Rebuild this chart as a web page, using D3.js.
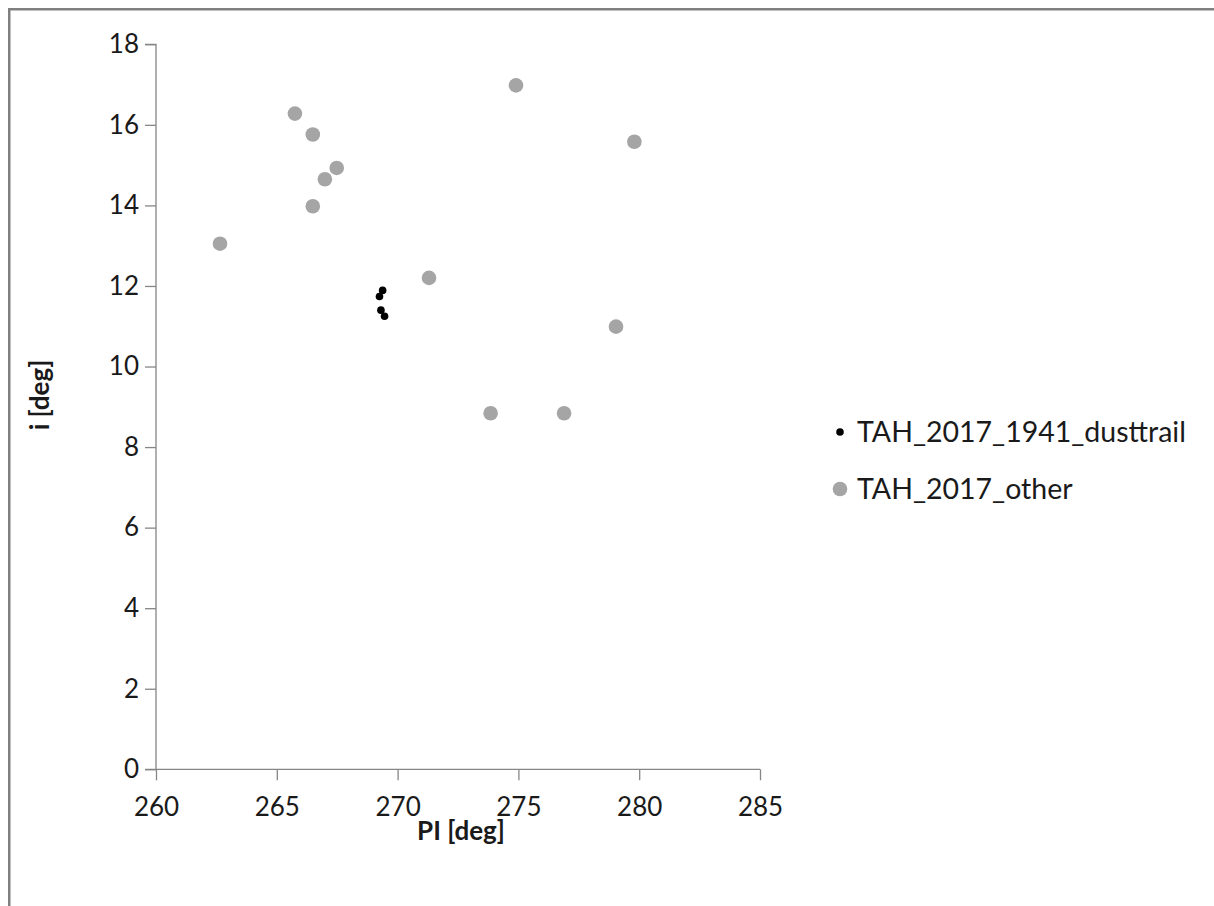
<!DOCTYPE html>
<html><head><meta charset="utf-8">
<script src="https://cdn.jsdelivr.net/npm/d3@7"></script>
<style>html,body{margin:0;padding:0;background:#fff;}svg{display:block;}</style>
</head><body>
<svg id="chart" width="1214" height="906"></svg>
<script>
// Data
const dusttrailPI = [269.38, 269.25, 269.31, 269.46];
const dusttrailI  = [11.89, 11.74, 11.40, 11.25];
const otherPI = [262.65, 265.75, 266.49, 267.48, 266.99, 266.49, 271.30, 274.90, 279.80, 279.04, 273.85, 276.89];
const otherI  = [13.05, 16.28, 15.76, 14.93, 14.65, 13.98, 12.20, 16.98, 15.58, 10.99, 8.84, 8.84];
const xTicks = [260, 265, 270, 275, 280, 285];
const yTicks = [0, 2, 4, 6, 8, 10, 12, 14, 16, 18];
const seriesNames = ["TAH_2017_1941_dusttrail", "TAH_2017_other"];

const svg = d3.select("#chart");
const font = "Lato, 'Open Sans', sans-serif";
const axisColor = "#868686";

// outer border
svg.append("rect").attr("x", 9.25).attr("y", 9.25).attr("width", 1220).attr("height", 920)
  .attr("fill", "none").attr("stroke", "#808080").attr("stroke-width", 2.5);

const x = d3.scaleLinear().domain([260, 285]).range([156, 760]);
const y = d3.scaleLinear().domain([0, 18]).range([769.3, 44.3]);

const xAxis = svg.append("g").attr("transform", `translate(0,${y(0)})`)
  .call(d3.axisBottom(x).tickValues(xTicks).tickSize(11).tickSizeOuter(0).tickPadding(17));
const yAxis = svg.append("g").attr("transform", `translate(${x(260)},0)`)
  .call(d3.axisLeft(y).tickValues(yTicks).tickSize(11).tickSizeOuter(0).tickPadding(6));

[xAxis, yAxis].forEach(g => {
  g.select(".domain").attr("stroke", axisColor).attr("stroke-width", 1.3);
  g.selectAll(".tick line").attr("stroke", axisColor).attr("stroke-width", 1.3);
  g.selectAll(".tick text").attr("fill", "#1a1a1a").style("font-family", font).style("font-size", "26px");
});
xAxis.select(".domain").attr("d", `M${x(260)-11},0H${x(285)}`);
yAxis.select(".domain").attr("d", `M0,${y(0)}V${y(18)}H-11`);

// axis titles
svg.append("text").attr("x", 461).attr("y", 840).attr("text-anchor", "middle")
  .style("font-family", font).style("font-size", "26px").style("font-weight", "bold").attr("fill", "#1a1a1a")
  .text("PI [deg]");
svg.append("text").attr("transform", `translate(49,${395}) rotate(-90)`).attr("text-anchor", "middle")
  .style("font-family", font).style("font-size", "26px").style("font-weight", "bold").attr("fill", "#1a1a1a")
  .text("i [deg]");

// points
svg.append("g").selectAll("circle").data(otherPI.map((v, i) => [v, otherI[i]])).join("circle")
  .attr("cx", d => x(d[0])).attr("cy", d => y(d[1])).attr("r", 7.3).attr("fill", "#a5a5a5");
svg.append("g").selectAll("circle").data(dusttrailPI.map((v, i) => [v, dusttrailI[i]])).join("circle")
  .attr("cx", d => x(d[0])).attr("cy", d => y(d[1])).attr("r", 3.8).attr("fill", "#000");

// legend
const legY = [432, 489];
const legColors = ["#000", "#a5a5a5"];
const legR = [3.8, 7.3];
seriesNames.forEach((name, i) => {
  svg.append("circle").attr("cx", 840).attr("cy", legY[i]).attr("r", legR[i]).attr("fill", legColors[i]);
  svg.append("text").attr("x", 857).attr("y", legY[i] + 10)
    .style("font-family", font).style("font-size", "28.5px").attr("fill", "#1a1a1a").text(name);
});
</script>
</body></html>
